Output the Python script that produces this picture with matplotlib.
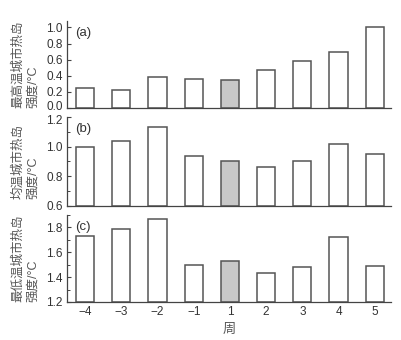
import matplotlib
matplotlib.use("Agg")
import matplotlib.pyplot as plt
from matplotlib.ticker import MultipleLocator, FormatStrFormatter
from matplotlib.transforms import ScaledTranslation

plt.rcParams['font.family'] = ['Liberation Sans', 'Noto Sans CJK SC', 'DejaVu Sans']
plt.rcParams['axes.unicode_minus'] = True

weeks = ['\u22124', '\u22123', '\u22122', '\u22121', '1', '2', '3', '4', '5']
uhi_max = [0.25, 0.22, 0.38, 0.36, 0.35, 0.47, 0.58, 0.70, 1.00]
uhi_mean = [1.00, 1.04, 1.13, 0.94, 0.90, 0.86, 0.90, 1.02, 0.95]
uhi_min = [1.73, 1.79, 1.87, 1.50, 1.53, 1.43, 1.48, 1.72, 1.49]
highlight = '1'

ylabels = ['最高温城市热岛\n强度/°C', '均温城市热岛\n强度/°C', '最低温城市热岛\n强度/°C']
tags = ['(a)', '(b)', '(c)']
series = [uhi_max, uhi_mean, uhi_min]
ylims = [(0.0, 1.08), (0.6, 1.2), (1.2, 1.9)]
yticks = [[0.0, 0.2, 0.4, 0.6, 0.8, 1.0],
          [0.6, 0.8, 1.0, 1.2],
          [1.2, 1.4, 1.6, 1.8]]
minor = [None, 0.1, 0.1]

W, H = 401, 340
fig = plt.figure(figsize=(W / 100, H / 100), dpi=100)
left, right = 67 / W, 391 / W
boxes = [(21, 108), (117, 206), (215, 302)]

edge = '#555555'
text_c = '#333333'
label_c = '#555555'
x = list(range(len(weeks)))
axes = []

for i, (top, bot) in enumerate(boxes):
    ax = fig.add_axes([left, 1 - bot / H, right - left, (bot - top) / H])
    axes.append(ax)
    vals = series[i]
    colors = ['#c8c8c8' if w == highlight else 'white' for w in weeks]
    base = ylims[i][0]
    ax.bar(x, [v - base for v in vals], bottom=base, width=0.5,
           color=colors, edgecolor=edge, linewidth=1.1, zorder=2)
    ax.set_xlim(-0.5, 8.45)
    ax.set_ylim(*ylims[i])
    ax.set_yticks(yticks[i])
    if minor[i]:
        ax.yaxis.set_minor_locator(MultipleLocator(minor[i]))
    ax.yaxis.set_major_formatter(FormatStrFormatter('%.1f'))
    ax.set_xticks(x)
    if i == 2:
        ax.set_xticklabels(weeks, fontsize=9.5)
        ax.set_xlabel('周', color=label_c, fontsize=9.5, labelpad=4)
    else:
        ax.set_xticklabels([])
    for s in ('top', 'right'):
        ax.spines[s].set_visible(False)
    for s in ('left', 'bottom'):
        ax.spines[s].set_color('#444444')
        ax.spines[s].set_linewidth(0.9)
    ax.tick_params(axis='both', which='major', direction='in', length=3,
                   width=0.8, color='#444444', labelsize=8.5, labelcolor=text_c, pad=3)
    ax.tick_params(axis='x', which='major', length=2.5, pad=3)
    ax.tick_params(axis='y', which='minor', direction='in', length=2,
                   width=0.7, color='#444444')
    ax.set_ylabel(ylabels[i], fontsize=9, color=label_c, multialignment='left',
                  linespacing=1.35, labelpad=5)
    ax.text(0.025, 0.93, tags[i], transform=ax.transAxes, fontsize=9.5,
            color=text_c, ha='left', va='top')

# nudge the two tick labels that sit at the seam between panels (a) and (b)
def nudge(tick, dy_pt):
    lab = tick.label1
    lab.set_transform(lab.get_transform() +
                      ScaledTranslation(0, dy_pt / 72, fig.dpi_scale_trans))

nudge(axes[0].yaxis.get_major_ticks()[0], 1.8)
nudge(axes[1].yaxis.get_major_ticks()[-1], -1.8)

fig.savefig('out.png', dpi=100)
